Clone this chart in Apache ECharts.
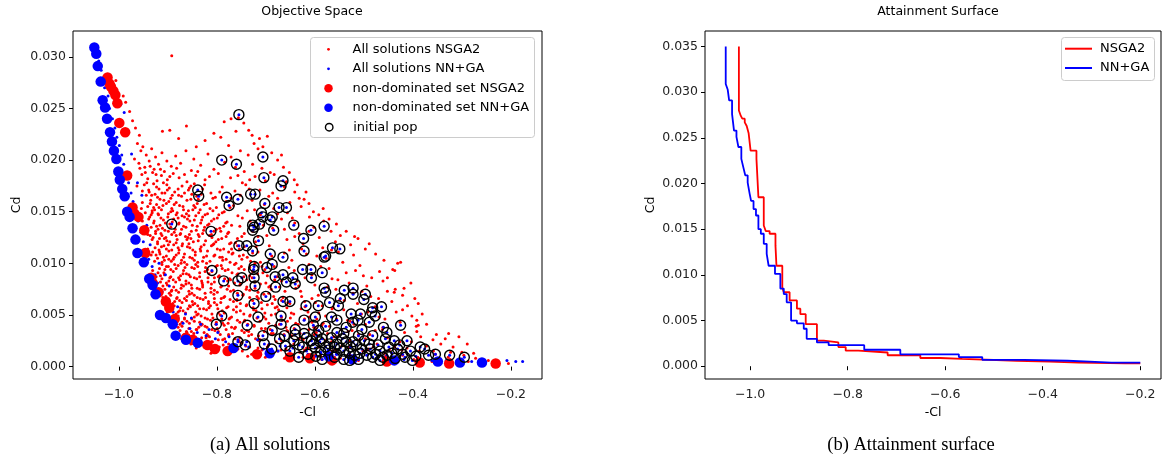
<!DOCTYPE html>
<html>
<head>
<meta charset="utf-8">
<script src="https://cdn.jsdelivr.net/npm/echarts@6/dist/echarts.min.js"></script>
<style>
html,body{margin:0;padding:0;background:#fff;}
#chart{width:1174px;height:464px;}
</style>
</head>
<body>
<div id="chart"></div>
<script>
// ---------- data ----------
const xTicks = [-1.0, -0.8, -0.6, -0.4, -0.2];
const yTicksA = [0, 0.005, 0.010, 0.015, 0.020, 0.025, 0.030];
const yTicksB = [0, 0.005, 0.010, 0.015, 0.020, 0.025, 0.030, 0.035];

// small red dots: all solutions NSGA2 (-Cl, Cd)
const redAll = [
[-0.892,.0301],
[-1.006,.0277],[-0.991,.0262],[-0.986,.0256],[-0.978,.0247],[-0.972,.0238],[-0.966,.0231],[-0.958,.0224],[-0.962,.0216],[-0.951,.0213],
[-0.896,.0229],[-0.862,.0233],[-0.756,.0241],[-0.745,.0236],[-0.771,.0240],[-0.785,.0237],[-0.735,.0229],[-0.728,.0224],[-0.713,.0221],[-0.697,.0223],[-0.792,.0222],[-0.824,.0219],[-0.776,.0214],
[-0.955,.0209],[-0.944,.0205],[-0.933,.0211],[-0.925,.0203],[-0.912,.0207],[-0.902,.0199],[-0.884,.0204],[-0.863,.0209],[-0.847,.0201],[-0.818,.0206],[-0.771,.0203],[-0.752,.0209],[-0.736,.0205],[-0.716,.0211],[-0.688,.0207],[-0.676,.0200],
[-0.959,.0197],[-0.947,.0193],[-0.938,.0199],[-0.928,.0191],[-0.919,.0196],[-0.907,.0189],[-0.893,.0194],[-0.874,.0197],[-0.852,.0190],[-0.833,.0195],[-0.806,.0191],[-0.784,.0198],[-0.762,.0193],[-0.744,.0189],[-0.727,.0196],[-0.708,.0192],[-0.691,.0188],[-0.664,.0193],
[-0.953,.0186],[-0.941,.0182],[-0.931,.0188],[-0.922,.0180],[-0.913,.0185],[-0.901,.0181],[-0.889,.0187],[-0.877,.0183],[-0.861,.0179],[-0.843,.0185],[-0.824,.0181],[-0.797,.0187],[-0.772,.0183],[-0.748,.0178],[-0.722,.0184],[-0.701,.0180],[-0.683,.0186],[-0.658,.0179],
[-0.948,.0176],[-0.939,.0171],[-0.929,.0177],[-0.918,.0172],[-0.909,.0178],[-0.897,.0173],[-0.886,.0169],[-0.871,.0175],[-0.858,.0171],[-0.846,.0177],[-0.829,.0172],[-0.812,.0168],[-0.789,.0174],[-0.763,.0170],[-0.741,.0176],[-0.712,.0171],[-0.686,.0168],[-0.662,.0174],[-0.641,.0169],[-0.632,.0163],
[-0.944,.0166],[-0.935,.0161],[-0.926,.0167],[-0.916,.0162],[-0.906,.0168],[-0.894,.0163],[-0.883,.0159],[-0.872,.0165],[-0.861,.0161],[-0.851,.0167],[-0.838,.0162],[-0.821,.0158],[-0.803,.0164],[-0.781,.0160],[-0.752,.0166],[-0.728,.0161],[-0.703,.0157],[-0.676,.0163],[-0.651,.0159],[-0.622,.0162],
[-0.941,.0155],[-0.932,.0151],[-0.923,.0157],[-0.913,.0152],[-0.903,.0158],[-0.892,.0153],[-0.881,.0149],[-0.869,.0155],[-0.858,.0151],[-0.847,.0156],[-0.834,.0152],[-0.819,.0148],[-0.801,.0154],[-0.785,.0150],[-0.766,.0156],[-0.738,.0151],[-0.711,.0147],[-0.684,.0153],[-0.656,.0149],[-0.628,.0155],[-0.603,.0150],
[-0.937,.0145],[-0.928,.0141],[-0.919,.0147],[-0.909,.0142],[-0.899,.0148],[-0.888,.0143],[-0.877,.0139],[-0.866,.0145],[-0.855,.0141],[-0.843,.0146],[-0.831,.0142],[-0.816,.0138],[-0.799,.0144],[-0.779,.0140],[-0.757,.0146],[-0.732,.0141],[-0.705,.0137],[-0.668,.0143],[-0.641,.0139],[-0.611,.0145],[-0.582,.0141],[-0.592,.0147],
[-0.934,.0135],[-0.925,.0131],[-0.916,.0137],[-0.906,.0132],[-0.896,.0138],[-0.885,.0133],[-0.874,.0129],[-0.863,.0135],[-0.852,.0131],[-0.840,.0136],[-0.827,.0132],[-0.811,.0128],[-0.794,.0134],[-0.776,.0130],[-0.753,.0136],[-0.727,.0131],[-0.698,.0127],[-0.662,.0133],[-0.632,.0129],[-0.602,.0135],[-0.567,.0131],[-0.548,.0127],
[-0.930,.0125],[-0.921,.0121],[-0.912,.0127],[-0.902,.0122],[-0.892,.0128],[-0.881,.0123],[-0.870,.0119],[-0.859,.0125],[-0.848,.0121],[-0.836,.0126],[-0.823,.0122],[-0.808,.0118],[-0.790,.0124],[-0.771,.0120],[-0.749,.0126],[-0.721,.0121],[-0.693,.0117],[-0.657,.0123],[-0.624,.0119],[-0.591,.0125],[-0.558,.0121],[-0.527,.0118],[-0.512,.0124],
[-0.926,.0115],[-0.917,.0111],[-0.908,.0117],[-0.898,.0112],[-0.888,.0118],[-0.877,.0113],[-0.866,.0109],[-0.855,.0115],[-0.844,.0111],[-0.832,.0116],[-0.819,.0112],[-0.804,.0108],[-0.786,.0114],[-0.767,.0110],[-0.744,.0116],[-0.716,.0111],[-0.688,.0107],[-0.652,.0113],[-0.617,.0109],[-0.584,.0115],[-0.552,.0111],[-0.521,.0108],[-0.497,.0114],
[-0.921,.0105],[-0.912,.0101],[-0.903,.0107],[-0.893,.0102],[-0.883,.0108],[-0.872,.0103],[-0.861,.0099],[-0.850,.0105],[-0.839,.0101],[-0.827,.0106],[-0.814,.0102],[-0.799,.0098],[-0.781,.0104],[-0.761,.0100],[-0.738,.0106],[-0.711,.0101],[-0.683,.0097],[-0.647,.0103],[-0.612,.0099],[-0.577,.0105],[-0.543,.0101],[-0.508,.0098],[-0.431,.0100],[-0.441,.0094],
[-0.917,.0095],[-0.908,.0091],[-0.899,.0097],[-0.889,.0092],[-0.879,.0098],[-0.868,.0093],[-0.857,.0089],[-0.846,.0095],[-0.835,.0091],[-0.823,.0096],[-0.810,.0092],[-0.795,.0088],[-0.777,.0094],[-0.757,.0090],[-0.733,.0096],[-0.706,.0091],[-0.678,.0087],[-0.642,.0093],[-0.606,.0089],[-0.571,.0095],[-0.536,.0091],[-0.501,.0088],[-0.468,.0092],[-0.452,.0086],
[-0.912,.0085],[-0.903,.0081],[-0.894,.0087],[-0.884,.0082],[-0.874,.0088],[-0.863,.0083],[-0.852,.0079],[-0.841,.0085],[-0.830,.0081],[-0.818,.0086],[-0.805,.0082],[-0.790,.0078],[-0.772,.0084],[-0.752,.0080],[-0.728,.0086],[-0.700,.0081],[-0.672,.0077],[-0.636,.0083],[-0.600,.0079],[-0.565,.0085],[-0.530,.0081],[-0.494,.0078],[-0.461,.0083],[-0.404,.0081],[-0.418,.0076],
[-0.906,.0075],[-0.897,.0071],[-0.888,.0077],[-0.878,.0072],[-0.868,.0078],[-0.857,.0073],[-0.846,.0069],[-0.835,.0075],[-0.824,.0071],[-0.812,.0076],[-0.799,.0072],[-0.784,.0068],[-0.766,.0074],[-0.746,.0070],[-0.722,.0076],[-0.694,.0071],[-0.665,.0067],[-0.629,.0073],[-0.593,.0069],[-0.557,.0075],[-0.522,.0071],[-0.486,.0068],[-0.452,.0073],[-0.421,.0069],[-0.396,.0066],
[-0.899,.0065],[-0.890,.0061],[-0.881,.0067],[-0.871,.0062],[-0.861,.0068],[-0.850,.0063],[-0.839,.0059],[-0.828,.0065],[-0.817,.0061],[-0.805,.0066],[-0.792,.0062],[-0.777,.0058],[-0.759,.0064],[-0.739,.0060],[-0.715,.0066],[-0.687,.0061],[-0.657,.0057],[-0.621,.0063],[-0.585,.0059],[-0.549,.0065],[-0.513,.0061],[-0.477,.0058],[-0.443,.0063],[-0.411,.0059],[-0.389,.0061],
[-0.892,.0055],[-0.883,.0051],[-0.874,.0057],[-0.864,.0052],[-0.854,.0058],[-0.843,.0053],[-0.832,.0049],[-0.821,.0055],[-0.810,.0051],[-0.798,.0056],[-0.785,.0052],[-0.770,.0048],[-0.752,.0054],[-0.732,.0050],[-0.708,.0056],[-0.680,.0051],[-0.650,.0047],[-0.614,.0053],[-0.578,.0049],[-0.541,.0055],[-0.505,.0051],[-0.469,.0048],[-0.434,.0053],[-0.402,.0049],[-0.381,.0051],
[-0.884,.0045],[-0.875,.0041],[-0.866,.0047],[-0.856,.0042],[-0.846,.0048],[-0.835,.0043],[-0.824,.0039],[-0.813,.0045],[-0.802,.0041],[-0.790,.0046],[-0.777,.0042],[-0.762,.0038],[-0.744,.0044],[-0.724,.0040],[-0.700,.0046],[-0.672,.0041],[-0.642,.0037],[-0.606,.0043],[-0.570,.0039],[-0.533,.0045],[-0.497,.0041],[-0.461,.0038],[-0.426,.0043],[-0.393,.0039],[-0.372,.0041],
[-0.875,.0035],[-0.866,.0031],[-0.857,.0037],[-0.847,.0032],[-0.837,.0038],[-0.826,.0033],[-0.815,.0029],[-0.804,.0035],[-0.793,.0031],[-0.781,.0036],[-0.768,.0032],[-0.753,.0028],[-0.735,.0034],[-0.715,.0030],[-0.691,.0036],[-0.663,.0031],[-0.633,.0027],[-0.597,.0033],[-0.561,.0029],[-0.524,.0035],[-0.488,.0031],[-0.452,.0028],[-0.417,.0033],[-0.384,.0029],[-0.352,.0031],[-0.334,.0027],
[-0.862,.0026],[-0.853,.0022],[-0.843,.0027],[-0.833,.0023],[-0.822,.0028],[-0.811,.0024],[-0.800,.0020],[-0.788,.0026],[-0.776,.0022],[-0.763,.0027],[-0.749,.0023],[-0.733,.0019],[-0.715,.0025],[-0.695,.0021],[-0.671,.0027],[-0.643,.0022],[-0.613,.0018],[-0.579,.0024],[-0.545,.0020],[-0.509,.0026],[-0.473,.0022],[-0.437,.0019],[-0.403,.0024],[-0.372,.0020],[-0.343,.0022],[-0.318,.0019],
[-0.796,.0017],[-0.781,.0014],[-0.766,.0018],[-0.748,.0015],[-0.729,.0012],[-0.708,.0016],[-0.685,.0013],[-0.659,.0017],[-0.631,.0014],[-0.599,.0011],[-0.565,.0015],[-0.529,.0012],[-0.493,.0016],[-0.457,.0013],[-0.421,.0011],[-0.387,.0015],[-0.354,.0012],[-0.323,.0014],[-0.296,.0011],[-0.276,.0013],
[-0.701,.0009],[-0.662,.0008],[-0.624,.0009],[-0.586,.0007],[-0.548,.0008],[-0.511,.0006],[-0.473,.0008],[-0.436,.0006],[-0.398,.0007],[-0.361,.0005],[-0.324,.0007],[-0.287,.0005],[-0.252,.0004],[-0.205,.0003],
[-0.938,.0169],[-0.921,.0164],[-0.901,.0171],[-0.878,.0166],[-0.856,.0173],[-0.832,.0167],
[-0.936,.0158],[-0.918,.0154],[-0.898,.0160],[-0.876,.0156],[-0.853,.0162],[-0.826,.0157],[-0.808,.0151],
[-0.932,.0149],[-0.914,.0144],[-0.894,.0150],[-0.871,.0146],[-0.849,.0152],[-0.824,.0147],[-0.806,.0143],[-0.789,.0149],
[-0.929,.0139],[-0.911,.0134],[-0.891,.0140],[-0.868,.0136],[-0.846,.0142],[-0.819,.0137],[-0.801,.0133],[-0.782,.0139],
[-0.925,.0129],[-0.907,.0124],[-0.887,.0130],[-0.864,.0126],[-0.842,.0132],[-0.815,.0127],[-0.797,.0123],[-0.778,.0129],[-0.758,.0124],
[-0.921,.0119],[-0.903,.0114],[-0.883,.0120],[-0.860,.0116],[-0.838,.0122],[-0.811,.0117],[-0.793,.0113],[-0.774,.0119],[-0.754,.0114],
[-0.916,.0109],[-0.898,.0104],[-0.878,.0110],[-0.855,.0106],[-0.833,.0112],[-0.806,.0107],[-0.788,.0103],[-0.769,.0109],[-0.749,.0104],[-0.727,.0110],
[-0.912,.0099],[-0.894,.0094],[-0.873,.0100],[-0.851,.0096],[-0.829,.0102],[-0.802,.0097],[-0.783,.0093],[-0.764,.0099],[-0.744,.0094],[-0.722,.0100],
[-0.907,.0089],[-0.889,.0084],[-0.869,.0090],[-0.846,.0086],[-0.824,.0092],[-0.797,.0087],[-0.778,.0083],[-0.759,.0089],[-0.739,.0084],[-0.717,.0090],
[-0.901,.0079],[-0.883,.0074],[-0.863,.0080],[-0.840,.0076],[-0.818,.0082],[-0.792,.0077],[-0.772,.0073],[-0.753,.0079],[-0.733,.0074],[-0.711,.0080],[-0.689,.0075],
[-0.894,.0069],[-0.876,.0064],[-0.856,.0070],[-0.834,.0066],[-0.812,.0072],[-0.786,.0067],[-0.766,.0063],[-0.747,.0069],[-0.727,.0064],[-0.704,.0070],[-0.681,.0065],
[-0.887,.0059],[-0.869,.0054],[-0.849,.0060],[-0.827,.0056],[-0.805,.0062],[-0.780,.0057],[-0.760,.0053],[-0.740,.0059],[-0.720,.0054],[-0.697,.0060],[-0.674,.0055],[-0.651,.0061],
[-0.879,.0049],[-0.861,.0044],[-0.841,.0050],[-0.819,.0046],[-0.797,.0052],[-0.773,.0047],[-0.753,.0043],[-0.733,.0049],[-0.712,.0044],[-0.689,.0050],[-0.666,.0045],[-0.643,.0051],[-0.621,.0046],
[-0.871,.0039],[-0.852,.0034],[-0.832,.0040],[-0.810,.0036],[-0.788,.0042],[-0.764,.0037],[-0.744,.0033],[-0.724,.0039],[-0.703,.0034],[-0.680,.0040],[-0.657,.0035],[-0.634,.0041],[-0.612,.0036],[-0.586,.0040],
[-0.858,.0029],[-0.839,.0024],[-0.818,.0030],[-0.797,.0026],[-0.776,.0031],[-0.755,.0025],[-0.735,.0030],[-0.711,.0026],[-0.689,.0032],[-0.668,.0025],[-0.647,.0030],[-0.624,.0026],[-0.601,.0031],[-0.576,.0026],[-0.551,.0030],[-0.529,.0025],
[-0.826,.0019],[-0.807,.0016],[-0.787,.0021],[-0.769,.0016],[-0.741,.0020],[-0.720,.0014],[-0.697,.0019],[-0.676,.0015],[-0.650,.0020],[-0.621,.0016],[-0.592,.0019],[-0.559,.0017],[-0.531,.0019],[-0.502,.0015],[-0.481,.0019],[-0.448,.0016],[-0.412,.0018],
[-0.968,.0201],[-0.957,.0192],[-0.946,.0188],[-0.936,.0194],[-0.924,.0186],[-0.915,.0191],[-0.896,.0184],[-0.882,.0192],[-0.866,.0186],[-0.839,.0189],[-0.815,.0184],[-0.757,.0185],[-0.733,.0181],
[-0.963,.0175],[-0.952,.0170],[-0.943,.0178],[-0.933,.0166],[-0.923,.0174],[-0.912,.0168],[-0.902,.0176],[-0.891,.0166],[-0.879,.0172],[-0.866,.0168],[-0.853,.0175],[-0.841,.0165],[-0.825,.0176],[-0.808,.0163],[-0.794,.0169],[-0.771,.0163],[-0.734,.0172],[-0.694,.0165],
[-0.954,.0153],[-0.946,.0149],[-0.939,.0143],[-0.929,.0154],[-0.920,.0148],[-0.910,.0156],[-0.900,.0145],[-0.890,.0151],[-0.879,.0144],[-0.868,.0152],[-0.857,.0146],[-0.844,.0154],[-0.829,.0145],[-0.814,.0153],[-0.796,.0147],[-0.773,.0154],[-0.748,.0144],[-0.723,.0152],[-0.676,.0148],[-0.646,.0144],
[-0.949,.0134],[-0.941,.0128],[-0.932,.0123],[-0.923,.0136],[-0.914,.0129],[-0.904,.0125],[-0.894,.0135],[-0.883,.0127],[-0.872,.0133],[-0.861,.0123],[-0.850,.0137],[-0.838,.0128],[-0.825,.0135],[-0.810,.0125],[-0.792,.0131],[-0.770,.0137],[-0.744,.0129],[-0.716,.0126],[-0.686,.0134],[-0.641,.0126],[-0.612,.0131],
[-0.941,.0114],[-0.934,.0108],[-0.927,.0102],[-0.918,.0113],[-0.909,.0106],[-0.899,.0118],[-0.889,.0104],[-0.879,.0115],[-0.868,.0106],[-0.857,.0119],[-0.846,.0103],[-0.834,.0114],[-0.821,.0107],[-0.806,.0119],[-0.789,.0106],[-0.770,.0114],[-0.746,.0108],[-0.720,.0116],[-0.693,.0104],[-0.662,.0110],[-0.627,.0114],[-0.596,.0107],[-0.566,.0113],
[-0.931,.0093],[-0.924,.0087],[-0.915,.0082],[-0.906,.0094],[-0.896,.0086],[-0.886,.0099],[-0.876,.0084],[-0.865,.0096],[-0.854,.0087],[-0.843,.0099],[-0.831,.0083],[-0.819,.0094],[-0.805,.0086],[-0.791,.0098],[-0.774,.0085],[-0.755,.0095],[-0.733,.0088],[-0.708,.0097],[-0.682,.0084],[-0.653,.0096],[-0.620,.0086],[-0.588,.0097],[-0.553,.0084],[-0.517,.0093],[-0.484,.0086],
[-0.918,.0073],[-0.910,.0067],[-0.902,.0062],[-0.892,.0074],[-0.882,.0066],[-0.872,.0079],[-0.862,.0064],[-0.851,.0076],[-0.840,.0067],[-0.829,.0079],[-0.817,.0063],[-0.805,.0074],[-0.791,.0066],[-0.776,.0078],[-0.759,.0065],[-0.740,.0075],[-0.718,.0068],[-0.694,.0077],[-0.668,.0064],[-0.639,.0076],[-0.606,.0066],[-0.574,.0077],[-0.540,.0064],[-0.504,.0073],[-0.470,.0066],[-0.436,.0075],
[-0.901,.0053],[-0.893,.0047],[-0.885,.0042],[-0.876,.0054],[-0.866,.0046],[-0.856,.0059],[-0.846,.0044],[-0.835,.0056],[-0.824,.0047],[-0.813,.0059],[-0.801,.0043],[-0.789,.0054],[-0.775,.0046],[-0.760,.0058],[-0.743,.0045],[-0.725,.0055],[-0.704,.0048],[-0.681,.0057],[-0.656,.0044],[-0.628,.0056],[-0.596,.0046],[-0.563,.0057],[-0.528,.0044],[-0.492,.0053],[-0.457,.0046],[-0.421,.0055],[-0.392,.0045],
[-0.880,.0032],[-0.872,.0027],[-0.862,.0034],[-0.852,.0025],[-0.842,.0036],[-0.831,.0028],[-0.820,.0038],[-0.809,.0024],[-0.797,.0034],[-0.784,.0027],[-0.770,.0038],[-0.755,.0024],[-0.739,.0035],[-0.721,.0027],[-0.701,.0037],[-0.679,.0024],[-0.655,.0034],[-0.628,.0028],[-0.598,.0037],[-0.566,.0024],[-0.532,.0034],[-0.497,.0027],[-0.462,.0036],[-0.427,.0024],[-0.392,.0034],[-0.359,.0026],[-0.327,.0032],
[-0.842,.0018],[-0.828,.0021],[-0.812,.0013],[-0.795,.0019],[-0.775,.0012],[-0.757,.0017],[-0.737,.0010],[-0.716,.0018],[-0.693,.0011],[-0.669,.0016],[-0.644,.0010],[-0.617,.0018],[-0.588,.0010],[-0.557,.0016],[-0.524,.0009],[-0.490,.0017],[-0.456,.0010],[-0.422,.0016],[-0.390,.0009],[-0.358,.0015],[-0.328,.0009],[-0.300,.0014],[-0.272,.0008],[-0.246,.0006],
[-0.911,.0228],[-0.878,.0221],[-0.842,.0213],[-0.806,.0226],[-0.761,.0228],[-0.724,.0216],[-0.706,.0213],[-0.668,.0205],[-0.652,.0188],[-0.642,.0181],[-0.636,.0176],[-0.618,.0169],[-0.612,.0158],[-0.583,.0153],[-0.571,.0143],[-0.556,.0138],[-0.536,.0131],[-0.519,.0126],[-0.489,.0119],[-0.476,.0109],[-0.459,.0103],[-0.425,.0101],[-0.437,.0093],[-0.438,.0072],[-0.389,.0040],[-0.306,.0029],[-0.289,.0022],
[-0.952,.0159],[-0.927,.0152],[-0.908,.0161],[-0.887,.0157],[-0.862,.0148],[-0.840,.0158],
[-0.952,.0141],[-0.934,.0147],[-0.905,.0139],[-0.883,.0147],[-0.860,.0143],[-0.837,.0149],[-0.811,.0141],
[-0.944,.0131],[-0.920,.0133],[-0.899,.0131],[-0.878,.0138],[-0.856,.0128],[-0.833,.0139],[-0.806,.0131],[-0.786,.0136],
[-0.936,.0127],[-0.917,.0124],[-0.896,.0121],[-0.875,.0128],[-0.853,.0124],[-0.829,.0129],[-0.802,.0121],[-0.781,.0126],[-0.762,.0120],
[-0.931,.0111],[-0.913,.0116],[-0.892,.0113],[-0.871,.0117],[-0.849,.0113],[-0.826,.0118],[-0.799,.0114],[-0.776,.0111],[-0.758,.0117],
[-0.924,.0108],[-0.907,.0103],[-0.887,.0106],[-0.866,.0101],[-0.844,.0108],[-0.821,.0100],[-0.794,.0106],[-0.773,.0101],[-0.754,.0107],[-0.731,.0102],
[-0.920,.0091],[-0.903,.0097],[-0.883,.0095],[-0.862,.0090],[-0.839,.0097],[-0.816,.0090],[-0.789,.0095],[-0.769,.0091],[-0.750,.0097],[-0.727,.0092],[-0.702,.0094],
[-0.915,.0088],[-0.898,.0083],[-0.878,.0086],[-0.857,.0081],[-0.835,.0087],[-0.811,.0080],[-0.784,.0085],[-0.764,.0081],[-0.745,.0087],[-0.722,.0082],[-0.697,.0088],[-0.668,.0083],
[-0.910,.0078],[-0.893,.0073],[-0.873,.0076],[-0.851,.0071],[-0.829,.0077],[-0.806,.0070],[-0.779,.0075],[-0.758,.0071],[-0.739,.0077],[-0.716,.0072],[-0.691,.0078],[-0.661,.0073],[-0.633,.0078],
[-0.904,.0068],[-0.886,.0063],[-0.866,.0066],[-0.845,.0061],[-0.823,.0067],[-0.800,.0060],[-0.773,.0065],[-0.752,.0061],[-0.733,.0067],[-0.709,.0062],[-0.684,.0068],[-0.655,.0062],[-0.627,.0068],[-0.599,.0062],
[-0.896,.0058],[-0.879,.0053],[-0.859,.0056],[-0.838,.0051],[-0.816,.0057],[-0.793,.0050],[-0.766,.0055],[-0.745,.0051],[-0.726,.0057],[-0.702,.0052],[-0.677,.0058],[-0.648,.0052],[-0.620,.0058],[-0.592,.0052],[-0.565,.0056],
[-0.889,.0048],[-0.871,.0043],[-0.851,.0046],[-0.830,.0041],[-0.808,.0047],[-0.785,.0040],[-0.758,.0045],[-0.737,.0041],[-0.718,.0047],[-0.694,.0042],[-0.668,.0048],[-0.639,.0042],[-0.611,.0048],[-0.583,.0042],[-0.556,.0046],[-0.520,.0041],
[-0.879,.0038],[-0.861,.0033],[-0.841,.0036],[-0.820,.0031],[-0.799,.0037],[-0.776,.0030],[-0.749,.0035],[-0.729,.0031],[-0.709,.0037],[-0.685,.0032],[-0.659,.0038],[-0.630,.0032],[-0.602,.0038],[-0.574,.0032],[-0.546,.0036],[-0.511,.0031],[-0.477,.0035]
];

// initial population (black rings; each also carries an NN+GA solution dot)
const initPop = [
[-0.755,.0244],[-0.706,.0203],[-0.790,.0200],[-0.760,.0196],[-0.704,.0183],[-0.665,.0180],[-0.669,.0175],[-0.839,.0171],[-0.837,.0165],
[-0.731,.0167],[-0.722,.0167],[-0.780,.0164],[-0.757,.0162],[-0.775,.0156],[-0.702,.0158],[-0.673,.0154],[-0.658,.0154],[-0.709,.0149],
[-0.687,.0145],[-0.691,.0142],[-0.706,.0145],[-0.892,.0138],[-0.727,.0137],[-0.724,.0135],[-0.727,.0132],[-0.713,.0138],[-0.684,.0132],
[-0.812,.0131],[-0.643,.0137],[-0.608,.0132],[-0.581,.0136],[-0.715,.0122],[-0.623,.0124],[-0.755,.0117],[-0.739,.0117],[-0.727,.0112],
[-0.622,.0112],[-0.564,.0115],[-0.549,.0114],[-0.691,.0109],[-0.665,.0106],[-0.581,.0106],[-0.578,.0107],[-0.687,.0099],[-0.698,.0096],
[-0.724,.0097],[-0.725,.0094],[-0.810,.0093],[-0.625,.0094],[-0.608,.0094],[-0.585,.0091],[-0.786,.0083],[-0.749,.0086],[-0.757,.0083],
[-0.724,.0086],[-0.681,.0087],[-0.665,.0089],[-0.645,.0086],[-0.607,.0086],[-0.658,.0082],[-0.640,.0080],[-0.722,.0078],[-0.680,.0077],
[-0.581,.0076],[-0.522,.0076],[-0.540,.0074],[-0.578,.0072],[-0.522,.0070],[-0.497,.0070],[-0.757,.0069],[-0.700,.0068],[-0.500,.0065],
[-0.548,.0066],[-0.570,.0062],[-0.665,.0063],[-0.651,.0063],[-0.724,.0061],[-0.618,.0059],[-0.593,.0059],[-0.552,.0059],[-0.482,.0057],
[-0.464,.0058],[-0.484,.0053],[-0.477,.0049],[-0.526,.0051],[-0.507,.0051],[-0.790,.0049],[-0.716,.0048],[-0.669,.0049],[-0.599,.0048],
[-0.622,.0045],[-0.555,.0045],[-0.489,.0043],[-0.523,.0043],[-0.801,.0041],[-0.738,.0040],[-0.669,.0041],[-0.425,.0040],[-0.460,.0038],
[-0.603,.0040],[-0.578,.0039],[-0.640,.0036],[-0.687,.0035],[-0.453,.0033],[-0.555,.0033],[-0.541,.0032],[-0.706,.0030],[-0.662,.0030],
[-0.622,.0032],[-0.511,.0030],[-0.482,.0030],[-0.412,.0025],[-0.438,.0025],[-0.456,.0027],[-0.585,.0027],[-0.607,.0025],[-0.643,.0025],
[-0.757,.0024],[-0.522,.0024],[-0.489,.0022],[-0.555,.0022],[-0.625,.0019],[-0.599,.0018],[-0.578,.0019],[-0.376,.0017],[-0.405,.0015],
[-0.431,.0017],[-0.467,.0015],[-0.504,.0017],[-0.541,.0015],[-0.354,.0012],[-0.325,.0011],[-0.295,.0009],[-0.368,.0011],[-0.453,.0011],
[-0.416,.0009],[-0.482,.0009],[-0.519,.0011],[-0.555,.0012],[-0.588,.0014],[-0.614,.0012],[-0.651,.0015],[-0.511,.0007],[-0.541,.0007],
[-0.467,.0006],[-0.401,.0006],[-0.585,.0007],[-0.570,.0022],[-0.544,.0027],[-0.504,.0036],[-0.592,.0035],
[-0.632,.0021],[-0.617,.0028],[-0.603,.0022],[-0.596,.0030],[-0.590,.0024],[-0.573,.0016],[-0.566,.0028],[-0.560,.0019],[-0.548,.0018],
[-0.536,.0024],[-0.530,.0013],[-0.527,.0019],[-0.515,.0021],[-0.508,.0013],[-0.499,.0025],[-0.494,.0011],[-0.487,.0017],[-0.476,.0012],
[-0.471,.0021],[-0.461,.0009],[-0.449,.0019],[-0.443,.0013],[-0.436,.0008],[-0.427,.0021],[-0.421,.0012],[-0.394,.0010],[-0.385,.0019],
[-0.529,.0006],[-0.560,.0009],[-0.598,.0010],[-0.633,.0009],[-0.640,.0031],[-0.660,.0020],[-0.672,.0027],[-0.688,.0017],[-0.703,.0022],
[-0.742,.0021],[-0.536,.0038],[-0.566,.0048],[-0.512,.0045]
];

// other small blue dots: NN+GA solutions not in the initial population
const blueExtra = [
[-1.046,.0305],[-1.041,.0296],[-1.036,.0287],[-1.031,.0280],[-1.029,.0270],[-1.022,.0262],[-1.019,.0250],[-1.013,.0240],[-1.008,.0231],
[-1.004,.0222],[-0.999,.0214],[-0.994,.0205],[-0.990,.0196],[-0.985,.0186],[-0.980,.0178],[-0.975,.0168],[-0.971,.0160],[-0.966,.0151],
[-0.961,.0141],[-0.955,.0130],[-0.950,.0121],[-0.945,.0112],[-0.939,.0104],[-0.932,.0097],[-0.926,.0089],[-0.921,.0081],[-0.912,.0073],
[-0.905,.0066],[-0.897,.0060],[-0.889,.0053],[-0.879,.0047],[-0.869,.0042],[-0.855,.0037],[-0.840,.0033],[-0.822,.0030],[-0.803,.0027],
[-0.782,.0024],[-0.760,.0021],[-0.735,.0019],[-0.705,.0017],[-0.675,.0015],
[-0.996,.0254],[-0.989,.0246],[-0.974,.0206],[-0.962,.0178],[-0.953,.0166],[-0.943,.0137],[-0.936,.0118],[-0.918,.0100],[-0.905,.0089],
[-0.897,.0078],[-0.880,.0058],[-0.864,.0051],[-0.852,.0047],[-0.833,.0041],[-0.816,.0036],[-0.798,.0033],[-0.775,.0029],[-0.757,.0026],
[-0.739,.0024],[-0.717,.0026],[-0.693,.0022],[-0.671,.0020],[-0.645,.0018],[-0.617,.0015],[-0.588,.0013],[-0.556,.0012],[-0.531,.0010],
[-0.503,.0009],[-0.474,.0008],[-0.447,.0008],[-0.418,.0007],[-0.389,.0007],[-0.361,.0006],[-0.332,.0006],[-0.305,.0005],[-0.280,.0005],
[-0.208,.0006],[-0.190,.0005],[-0.176,.0005]
];

// non-dominated sets (also the corners of the attainment surfaces)
const ndNSGA2 = [
[-1.023,.0280],[-1.019,.0274],[-1.016,.0271],[-1.011,.0267],[-1.007,.0263],[-1.003,.0255],[-0.999,.0236],[-0.987,.0227],[-0.983,.0185],
[-0.972,.0154],[-0.968,.0148],[-0.960,.0145],[-0.948,.0132],[-0.946,.0110],[-0.934,.0086],[-0.931,.0081],[-0.919,.0072],[-0.904,.0063],
[-0.897,.0057],[-0.886,.0046],[-0.863,.0028],[-0.849,.0026],[-0.819,.0021],[-0.804,.0017],[-0.778,.0015],[-0.718,.0012],[-0.651,.0009],
[-0.610,.0008],[-0.565,.0006],[-0.453,.0005],[-0.386,.0004],[-0.326,.0003],[-0.231,.0003]
];
const ndNNGA = [
[-1.050,.0309],[-1.046,.0303],[-1.043,.0291],[-1.037,.0276],[-1.033,.0258],[-1.028,.0251],[-1.024,.0240],[-1.018,.0227],[-1.014,.0218],
[-1.010,.0209],[-1.005,.0201],[-1.001,.0189],[-0.998,.0181],[-0.993,.0172],[-0.988,.0165],[-0.983,.0150],[-0.978,.0145],[-0.972,.0134],
[-0.966,.0123],[-0.962,.0110],[-0.949,.0101],[-0.938,.0085],[-0.931,.0079],[-0.925,.0070],[-0.916,.0050],[-0.904,.0047],[-0.890,.0041],
[-0.884,.0030],[-0.863,.0026],[-0.839,.0023],[-0.766,.0018],[-0.692,.0013],[-0.572,.0010],[-0.524,.0007],[-0.438,.0006],[-0.349,.0005],
[-0.304,.0004],[-0.259,.0004]
];
const surfaceTop = 0.035;
const surfaceRight = -0.2;

// ---------- build ----------
function staircase(pts, top, right) {
  const out = [[pts[0][0], top]];
  pts.forEach(function (p, i) {
    if (i > 0) out.push([p[0], pts[i - 1][1]]);
    out.push([p[0], p[1]]);
  });
  out.push([right, pts[pts.length - 1][1]]);
  return out;
}

const FONT = 'DejaVu Sans';
const fmtX = v => (v < 0 ? '\u2212' : '') + Math.abs(v).toFixed(1);
const fmtY = v => v.toFixed(3);

function xAxisCfg(grid, min, max) {
  return {
    type: 'value', gridIndex: grid, min: min, max: max,
    name: '-Cl', nameLocation: 'middle', nameGap: 25,
    nameTextStyle: { fontFamily: FONT, fontSize: 12.5, color: '#000' },
    axisLine: { show: false },
    axisTick: { show: true, length: 4, customValues: xTicks, lineStyle: { color: '#000', width: 1 } },
    axisLabel: { customValues: xTicks, formatter: fmtX, margin: 9, fontFamily: FONT, fontSize: 12.5, color: '#222' },
    splitLine: { show: false }
  };
}
function yAxisCfg(grid, min, max, ticks, gap) {
  return {
    type: 'value', gridIndex: grid, min: min, max: max,
    name: 'Cd', nameLocation: 'middle', nameGap: gap, nameRotate: 90,
    nameTextStyle: { fontFamily: FONT, fontSize: 12.5, color: '#000' },
    axisLine: { show: false },
    axisTick: { show: true, length: 4, customValues: ticks, lineStyle: { color: '#000', width: 1 } },
    axisLabel: { customValues: ticks, formatter: fmtY, margin: 7, fontFamily: FONT, fontSize: 12.5, color: '#222' },
    splitLine: { show: false }
  };
}
// legend marker centred at x = 328.5, text starting about 24 px to the right
function legendCfg(name, rowY, h, extra) {
  const item = Object.assign({ name: name, icon: 'circle' }, extra || {});
  return {
    data: [item], left: 328.5 - h / 2, top: rowY - 7.5, padding: 0, orient: 'vertical',
    itemWidth: 38, itemHeight: h, selectedMode: false,
    textStyle: { fontFamily: FONT, fontSize: 13, color: '#000', lineHeight: 15 }
  };
}

const chart = echarts.init(document.getElementById('chart'), null, { renderer: 'canvas' });
chart.setOption({
  animation: false,
  backgroundColor: '#fff',
  title: [
    { text: 'Objective Space', left: 307, top: 0, textAlign: 'center',
      textStyle: { fontFamily: FONT, fontSize: 12.5, fontWeight: 'normal', color: '#000' } },
    { text: 'Attainment Surface', left: 933, top: 0, textAlign: 'center',
      textStyle: { fontFamily: FONT, fontSize: 12.5, fontWeight: 'normal', color: '#000' } }
  ],
  grid: [
    { left: 73, top: 31, width: 469, height: 348, show: true, borderColor: '#000', borderWidth: 1, backgroundColor: '#fff' },
    { left: 705, top: 31, width: 456, height: 348, show: true, borderColor: '#000', borderWidth: 1, backgroundColor: '#fff' }
  ],
  xAxis: [xAxisCfg(0, -1.0935, -0.1365), xAxisCfg(1, -1.0925, -0.1575)],
  yAxis: [yAxisCfg(0, -0.0012, 0.0325, yTicksA, 50), yAxisCfg(1, -0.0014, 0.0367, yTicksB, 48)],
  legend: [
    legendCfg('All solutions NSGA2', 49.3, 2.8),
    legendCfg('All solutions NN+GA', 68.8, 2.8),
    legendCfg('non-dominated set NSGA2', 88.3, 8.5),
    legendCfg('non-dominated set NN+GA', 107.8, 8.5),
    legendCfg('initial pop', 127.2, 7.5,
      { itemStyle: { color: 'rgba(0,0,0,0)', borderColor: '#000', borderWidth: 1.4 } }),
    { data: [{ name: 'NSGA2', icon: 'rect' }, { name: 'NN+GA', icon: 'rect' }],
      left: 1065, top: 48.7 - 7.5, padding: 0, orient: 'vertical', itemGap: 4.3,
      itemWidth: 27, itemHeight: 2, selectedMode: false,
      textStyle: { fontFamily: FONT, fontSize: 13, color: '#000', lineHeight: 15, padding: [0, 0, 0, 3] } }
  ],
  graphic: [
    { type: 'rect', z: 3, shape: { x: 310.5, y: 37.5, width: 224, height: 100, r: 3 },
      style: { fill: 'rgba(255,255,255,0.85)', stroke: '#cccccc', lineWidth: 1 } },
    { type: 'rect', z: 3, shape: { x: 1061.5, y: 37.5, width: 93, height: 43, r: 3 },
      style: { fill: 'rgba(255,255,255,0.85)', stroke: '#cccccc', lineWidth: 1 } },
    { type: 'text', z: 5, x: 270, y: 445,
      style: { text: '(a) All solutions', font: '18.5px "Liberation Serif"', fill: '#000', textAlign: 'center', textVerticalAlign: 'middle' } },
    { type: 'text', z: 5, x: 911, y: 445,
      style: { text: '(b) Attainment surface', font: '18.5px "Liberation Serif"', fill: '#000', textAlign: 'center', textVerticalAlign: 'middle' } }
  ],
  series: [
    { name: 'All solutions NSGA2', type: 'scatter', xAxisIndex: 0, yAxisIndex: 0, data: redAll,
      symbol: 'circle', symbolSize: 3, itemStyle: { color: '#ff0000', opacity: 1 }, silent: true },
    { name: 'All solutions NN+GA', type: 'scatter', xAxisIndex: 0, yAxisIndex: 0, data: blueExtra.concat(initPop),
      symbol: 'circle', symbolSize: 3, itemStyle: { color: '#0000ff', opacity: 1 }, silent: true },
    { name: 'non-dominated set NSGA2', type: 'scatter', xAxisIndex: 0, yAxisIndex: 0, data: ndNSGA2,
      symbol: 'circle', symbolSize: 10.5, itemStyle: { color: '#ff0000', opacity: 1 }, silent: true },
    { name: 'non-dominated set NN+GA', type: 'scatter', xAxisIndex: 0, yAxisIndex: 0, data: ndNNGA,
      symbol: 'circle', symbolSize: 10.5, itemStyle: { color: '#0000ff', opacity: 1 }, silent: true },
    { name: 'initial pop', type: 'scatter', xAxisIndex: 0, yAxisIndex: 0, data: initPop,
      symbol: 'circle', symbolSize: 10, itemStyle: { color: 'rgba(0,0,0,0)', borderColor: '#000', borderWidth: 1.4, opacity: 1 }, silent: true },
    { name: 'NSGA2', type: 'line', xAxisIndex: 1, yAxisIndex: 1, data: staircase(ndNSGA2, surfaceTop, surfaceRight),
      showSymbol: false, symbol: 'none', color: '#ff0000', lineStyle: { color: '#ff0000', width: 1.8 }, silent: true },
    { name: 'NN+GA', type: 'line', xAxisIndex: 1, yAxisIndex: 1, data: staircase(ndNNGA, surfaceTop, surfaceRight),
      showSymbol: false, symbol: 'none', color: '#0000ff', lineStyle: { color: '#0000ff', width: 1.8 }, silent: true }
  ]
});
</script>
</body>
</html>
